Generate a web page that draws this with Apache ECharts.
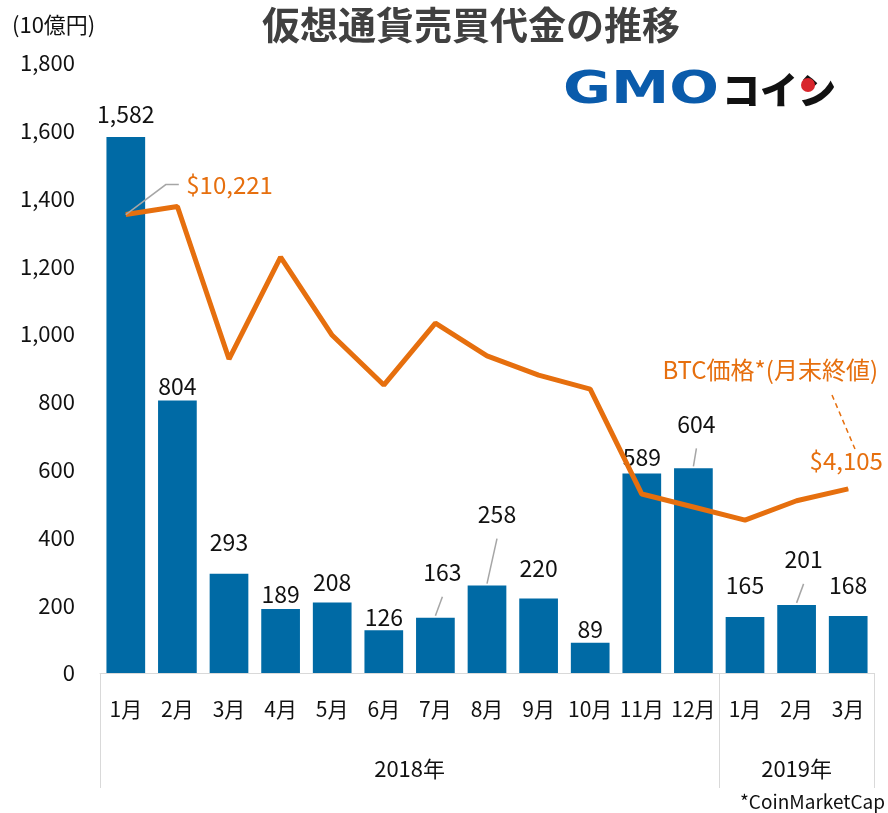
<!DOCTYPE html>
<html>
<head>
<meta charset="utf-8">
<script src="https://cdn.jsdelivr.net/npm/echarts@6/dist/echarts.min.js"></script>
<style>
  html, body { margin: 0; padding: 0; background: #fff; }
  #chart { width: 888px; height: 813px; }
</style>
</head>
<body>
<div id="chart"></div>
<script>
// 月ごとのデータ
const months = ['1月', '2月', '3月', '4月', '5月', '6月', '7月', '8月', '9月', '10月', '11月', '12月', '1月', '2月', '3月']
const volumes = [1582, 804, 293, 189, 208, 126, 163, 258, 220, 89, 589, 604, 165, 201, 168]
const btcPrice = [10221, 10400, 7000, 9270, 7530, 6420, 7800, 7070, 6640, 6330, 3990, 3700, 3410, 3840, 4105]
const years = ['2018年', '2019年']
const yearMonthCounts = [12, 3]

// ラベル位置の調整 (dx, dy)
const barLabelShift = [[0, -6], [0, 2], [0, -15], [0, 2], [0, -4], [0, 3], [7, -29], [10, -55],
  [0, -14], [0, 3], [0, 0], [3, -28], [0, -15], [7, -29], [0, -14]]
const barLeaders = [6, 7, 11, 13]
const firstPriceShift = [60, -30]

const FONT = 'Noto Sans CJK JP'
const BLUE = '#006aa5'
const ORANGE = '#e66f0e'
const GUIDE = '#a6a6a6'

// 年の軸: 半月単位のポイントを作る
const yearAxisData = []
const yearTickIdx = [0]
const yearLabelIdx = []
let pos = 0
years.forEach((y, i) => {
  const half = yearMonthCounts[i] * 2
  yearLabelIdx.push(pos + half / 2)
  pos += half
  yearTickIdx.push(pos)
})
for (let i = 0; i <= pos; i++) {
  const k = yearLabelIdx.indexOf(i)
  yearAxisData.push(k >= 0 ? years[k] : '')
}

const chart = echarts.init(document.getElementById('chart'))

const option = {
  backgroundColor: '#fff',
  animation: false,
  textStyle: { fontFamily: FONT },
  title: {
    text: '仮想通貨売買代金の推移',
    left: 466,
    top: 1,
    textAlign: 'center',
    textStyle: { fontFamily: FONT, fontSize: 38, fontWeight: 'bold', color: '#404040' }
  },
  grid: { left: 100, right: 14, top: 63, bottom: 140 },
  xAxis: [
    {
      type: 'category',
      data: months,
      axisLine: { lineStyle: { color: '#d9d9d9', width: 1 } },
      axisTick: { show: false },
      axisLabel: { interval: 0, margin: 26, fontSize: 21, color: '#111', fontFamily: FONT }
    },
    {
      type: 'category',
      position: 'bottom',
      boundaryGap: false,
      data: yearAxisData,
      axisLine: { show: false },
      axisTick: {
        show: true,
        length: 115,
        interval: (idx) => yearTickIdx.includes(idx),
        lineStyle: { color: '#d9d9d9', width: 1 }
      },
      axisLabel: {
        interval: (idx) => yearLabelIdx.includes(idx),
        margin: 85,
        fontSize: 22,
        color: '#111',
        fontFamily: FONT
      }
    }
  ],
  yAxis: [
    {
      type: 'value',
      min: 0,
      max: 1800,
      interval: 200,
      axisLine: { show: false },
      axisTick: { show: false },
      splitLine: { show: false },
      axisLabel: {
        margin: 25,
        fontSize: 22,
        color: '#111',
        fontFamily: FONT,
        formatter: (v) => v.toLocaleString('en-US')
      }
    },
    {
      type: 'value',
      min: 0,
      max: 13600,
      show: false,
      splitLine: { show: false }
    }
  ],
  series: [
    {
      name: '売買代金',
      type: 'bar',
      barCategoryGap: '25%',
      itemStyle: { color: BLUE },
      data: volumes,
      label: {
        show: true,
        position: 'top',
        distance: 5,
        fontSize: 23,
        color: '#111',
        fontFamily: FONT,
        formatter: (p) => p.value.toLocaleString('en-US')
      },
      labelLayout: (p) => {
        const s = barLabelShift[p.dataIndex]
        return { dx: s[0], dy: s[1] }
      }
    },
    {
      name: 'BTC価格',
      type: 'line',
      yAxisIndex: 1,
      symbol: 'circle',
      symbolSize: 1,
      lineStyle: { color: ORANGE, width: 5 },
      itemStyle: { color: ORANGE },
      z: 5,
      data: btcPrice.map((v, i) => {
        const last = i === btcPrice.length - 1
        if (i === 0 || last) {
          return {
            value: v,
            label: {
              show: true,
              position: last ? 'top' : 'right',
              distance: last ? 5 : 0,
              fontSize: 24,
              color: ORANGE,
              fontFamily: FONT,
              formatter: (p) => '$' + p.value.toLocaleString('en-US')
            }
          }
        }
        return v
      }),
      labelLayout: (p) => {
        if (p.dataIndex === 0) return { dx: firstPriceShift[0], dy: firstPriceShift[1] }
        if (p.dataIndex === btcPrice.length - 1) return { dx: -2, dy: -11 }
        return {}
      }
    }
  ],
  graphic: [
    {
      type: 'text',
      left: 12,
      top: 14,
      style: { text: '(10億円)', font: '22px "Noto Sans CJK JP"', fill: '#111' }
    },
    // GMOコイン ロゴ
    {
      type: 'text',
      left: 563,
      top: 70,
      scaleX: 1.33,
      style: { text: 'GMO', font: 'bold 44px "DejaVu Sans"', fill: '#0a5bab' }
    },
    {
      type: 'text',
      left: 722,
      top: 71,
      style: { text: 'コイン', font: '900 38px "Noto Sans CJK JP"', fill: '#111' }
    },
    {
      type: 'circle',
      shape: { cx: 808, cy: 85, r: 7 },
      style: { fill: '#d8262c' }
    },
    // 凡例テキスト
    {
      type: 'text',
      right: 10,
      top: 358,
      style: { text: 'BTC価格*(月末終値)', font: '24px "Noto Sans CJK JP"', fill: ORANGE }
    },
    {
      type: 'line',
      shape: { x1: 832, y1: 395, x2: 855, y2: 449 },
      style: { stroke: ORANGE, lineWidth: 1.5, lineDash: [5, 4] }
    },
    // 出典
    {
      type: 'text',
      right: 3,
      top: 792,
      style: { text: '*CoinMarketCap', font: '19px "Noto Sans CJK JP"', fill: '#111' }
    }
  ]
}

chart.setOption(option)

// ラベルの引き出し線 (スケールから位置を求める)
const guides = []
barLeaders.forEach((i) => {
  const p = chart.convertToPixel({ seriesIndex: 0 }, [i, volumes[i]])
  const s = barLabelShift[i]
  const labelCenterY = p[1] - 5 - 11 + s[1]
  guides.push({
    type: 'line',
    id: 'guide' + i,
    shape: { x1: p[0], y1: p[1] - 2, x2: p[0] + s[0], y2: labelCenterY + 24 },
    style: { stroke: GUIDE, lineWidth: 1.5 }
  })
})
const p0 = chart.convertToPixel({ seriesIndex: 1 }, [0, btcPrice[0]])
const lx = p0[0] + firstPriceShift[0]
const ly = p0[1] + firstPriceShift[1]
guides.push({
  type: 'polyline',
  id: 'guidePrice',
  shape: { points: [[p0[0], p0[1]], [lx - 20, ly], [lx - 7, ly]] },
  style: { stroke: GUIDE, lineWidth: 1.5, fill: null },
  z: 10
})
chart.setOption({ graphic: guides })
</script>
</body>
</html>
